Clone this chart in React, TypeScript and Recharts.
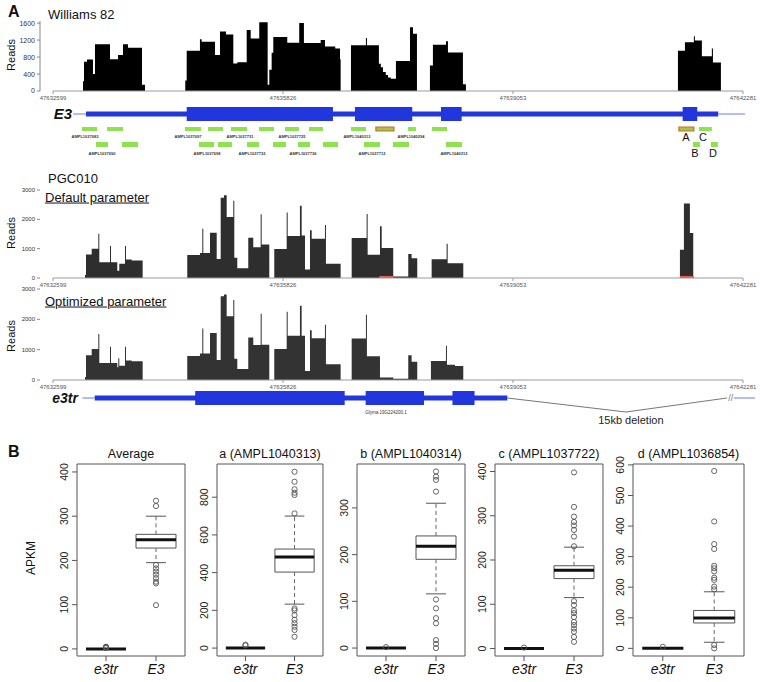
import React from 'react';
import {
  AreaChart,
  Area,
  ComposedChart,
  Scatter,
  XAxis,
  YAxis,
  ReferenceArea,
  ReferenceLine,
  ReferenceDot,
} from 'recharts';

const FONT = '"Liberation Sans", Arial, Helvetica, sans-serif';

// ---------- panel A: genomic region ----------
const REGION_START = 47632599;
const REGION_END = 47642281;
const REGION_LEN = REGION_END - REGION_START;
const POS_TICKS = [0, 3227, 6454, REGION_LEN];

// coverage breakpoints: [bp from region start, reads], value holds until next breakpoint
const williams82Cov: [number, number][] = [
  [421, 230], [435, 690], [477, 740], [561, 400], [589, 1100], [800, 750], [912, 850], [982, 1100], [1052, 1020], [1249, 150], [1291, 0],
  [1856, 250], [1876, 950], [2062, 1220], [2086, 1160], [2273, 850], [2343, 1400], [2427, 1330], [2530, 650], [2586, 680],
  [2718, 1440], [2774, 1240], [2894, 1620], [3012, 150], [3035, 500], [3068, 900], [3091, 1270], [3287, 1140], [3455, 1600],
  [3521, 1130], [3756, 1200], [3816, 1050], [3960, 1000], [4027, 750], [4036, 0],
  [4181, 1080], [4391, 1250], [4405, 1080], [4573, 640], [4600, 560], [4630, 450], [4670, 380], [4700, 320], [4740, 290],
  [4812, 710], [5009, 1500], [5051, 1350], [5107, 0],
  [5289, 600], [5331, 1090], [5514, 1170], [5542, 910], [5752, 160], [5794, 0],
  [8769, 950], [8867, 1150], [8993, 1290], [9007, 1190], [9105, 820], [9245, 1000], [9260, 670], [9372, 0],
];

const defaultCov: [number, number][] = [
  [449, 100], [463, 800], [543, 1000], [636, 1510], [650, 540], [800, 1090], [814, 540], [902, 250], [930, 490],
  [1010, 1090], [1024, 630], [1104, 600], [1258, 0],
  [1884, 780], [2062, 850], [2095, 1680], [2109, 850], [2203, 1540], [2297, 650], [2353, 2740], [2399, 2820], [2437, 2080],
  [2530, 2630], [2544, 690], [2586, 330], [2740, 1370], [2810, 1050], [2914, 2170], [2928, 1140], [3035, 0],
  [3105, 990], [3279, 2230], [3293, 1430], [3465, 2460], [3489, 1450], [3536, 290], [3606, 1630], [3630, 1340],
  [3816, 1810], [3830, 490], [4036, 0],
  [4191, 1360], [4401, 2180], [4415, 790], [4588, 1760], [4612, 1020], [4774, 50], [4985, 820], [5032, 670], [5111, 0],
  [5313, 640], [5523, 1170], [5538, 500], [5757, 0],
  [8797, 960], [8853, 2540], [8937, 1530], [8984, 0],
];

const optimizedCov: [number, number][] = [
  [449, 100], [463, 820], [543, 1020], [636, 1520], [650, 560], [800, 1100], [814, 560], [902, 420], [916, 720], [930, 470],
  [1010, 1100], [1024, 640], [1104, 620], [1258, 0],
  [1884, 790], [2062, 870], [2095, 1700], [2109, 870], [2203, 1550], [2297, 660], [2353, 2760], [2399, 2820], [2437, 2100],
  [2530, 2640], [2544, 700], [2586, 360], [2740, 1400], [2810, 1150], [2914, 2180], [2928, 1160], [3035, 0],
  [3105, 1020], [3279, 2250], [3293, 1460], [3465, 2450], [3489, 1460], [3536, 300], [3606, 1640], [3630, 1380],
  [3816, 1820], [3830, 520], [4036, 0],
  [4191, 1370], [4391, 2150], [4405, 780], [4588, 80], [4774, 40], [4985, 820], [5032, 600], [5111, 0],
  [5303, 630], [5514, 1130], [5528, 500], [5640, 460], [5757, 0],
];

// zero-coverage stretches flagged red under the default-parameter track
const defaultFlagged: [number, number][] = [[4578, 4774], [8797, 8993]];

// gene models
const e3Flanks: [number, number][] = [[281, 463], [9334, 9709]];
const e3Body: [number, number] = [463, 9334];
const e3Exons: [number, number][] = [[1876, 3928], [4237, 5041], [5444, 5734], [8835, 9040]];

const e3trFlanks: [number, number][] = [[412, 585], [9555, 9850]];
const e3trBody: [number, number] = [585, 6375];
const e3trExons: [number, number][] = [[1995, 4093], [4387, 5206], [5605, 5915]];
const deletionPath: [number, number][] = [[6375, 0], [8040, 1], [9457, 0]];

// amplicons: [start, end]
const ampRow1: [number, number][] = [
  [407, 617], [758, 982], [1852, 2076], [2175, 2385], [2497, 2722], [2890, 3101], [3255, 3451], [3592, 3788],
  [4181, 4391], [4531, 4784], [4981, 5093], [5317, 5528], [8783, 8993], [9063, 9245],
];
const ampRow2: [number, number][] = [
  [603, 772], [968, 1193], [2048, 2259], [2315, 2511], [2722, 2890], [3087, 3269], [3437, 3606], [3788, 3999],
  [4363, 4588], [4770, 4995], [5514, 5738], [8979, 9077], [9231, 9330],
];
const ampHighlighted = [4531, 8783];
const ampLabelsRow1: [number, string][] = [
  [449, 'AMPL1037683'], [1894, 'AMPL1037697'], [2624, 'AMPL1037731'], [3353, 'AMPL1037725'], [4265, 'AMPL1040313'], [5023, 'AMPL1040294'],
];
const ampLabelsRow2: [number, string][] = [
  [687, 'AMPL1037690'], [2161, 'AMPL1037698'], [2792, 'AMPL1037732'], [3508, 'AMPL1037736'], [4476, 'AMPL1037712'], [5626, 'AMPL1040312'],
];
const letterRow1: [number, string][] = [[8881, 'A'], [9120, 'C']];
const letterRow2: [number, string][] = [[9007, 'B'], [9260, 'D']];

// ---------- panel B: APKM box plots ----------
const boxTitles = ['Average', 'a (AMPL1040313)', 'b (AMPL1040314)', 'c (AMPL1037722)', 'd (AMPL1036854)'];
const groups = ['e3tr', 'E3'];
// [lower whisker, Q1, median, Q3, upper whisker]
const e3trStats = [
  [0, 0, 0, 0, 0],
  [0, 0, 0, 0, 0],
  [0, 0, 0, 0, 0],
  [0, 0, 0, 0, 0],
  [0, 0, 0, 0, 0],
];
const e3Stats = [
  [195, 228, 247, 259, 300],
  [233, 403, 483, 525, 700],
  [116, 190, 218, 240, 310],
  [115, 158, 177, 187, 229],
  [20, 83, 99, 124, 185],
];
const e3trOutliers = [[2, 3, 4, 5], [14, 18], [2], [2], [5]];
const e3Outliers = [
  [335, 323, 190, 182, 175, 168, 160, 152, 148, 99],
  [935, 882, 842, 824, 812, 714, 210, 200, 175, 150, 132, 113, 96, 60],
  [378, 367, 360, 335, 104, 85, 64, 53, 17, 9, 0],
  [398, 320, 298, 286, 278, 268, 253, 231, 107, 98, 86, 80, 71, 60, 53, 45, 38, 26, 15],
  [580, 415, 341, 325, 270, 262, 252, 231, 224, 202, 193, 11, 0],
];
const yLimits: [number, number][] = [[-16, 418], [-42, 976], [-17, 394], [-17, 417], [-25, 603]];
const yTicks = [
  [0, 100, 200, 300, 400],
  [0, 200, 400, 600, 800],
  [0, 100, 200, 300],
  [0, 100, 200, 300, 400],
  [0, 100, 200, 300, 400, 500, 600],
];

// layout
const PANEL_LEFT = [77, 217, 357, 495, 633];
const PANEL_W = [108, 106, 108, 108, 111];
const BOX_TOP = 464;
const BOX_H = 192;
const BOX_PAD = 14;
const BLUE = '#2236de';
const THIN_BLUE = '#8390f0';

const toSteps = (cov: [number, number][]) => [
  { pos: 0, reads: 0 },
  ...cov.map(([pos, reads]) => ({ pos, reads })),
  { pos: REGION_LEN, reads: 0 },
];

function Txt({ x, y, size, children, anchor = 'start', bold = false, italic = false, rotate = 0, underline = false }: any) {
  const tx = anchor === 'middle' ? '-50%' : anchor === 'end' ? '-100%' : '0';
  return (
    <div
      style={{
        position: 'absolute',
        left: x,
        top: y,
        transform: `translate(${tx}, -50%)${rotate ? ` rotate(${rotate}deg)` : ''}`,
        fontFamily: FONT,
        fontSize: size,
        fontWeight: bold ? 700 : 400,
        fontStyle: italic ? 'italic' : 'normal',
        textDecoration: underline ? 'underline' : 'none',
        whiteSpace: 'nowrap',
        lineHeight: 1.15,
        color: '#111',
      }}
    >
      {children}
    </div>
  );
}

function CoverageTrack({ cov, top, plotTop, plotH, yMax, ticks, fill, tickFont, yAxisLine = false, flagged = [] }: any) {
  return (
    <div style={{ position: 'absolute', left: 0, top }}>
      <AreaChart
        width={760}
        height={plotTop + plotH + 16}
        data={toSteps(cov)}
        margin={{ top: plotTop, right: 17, left: 0, bottom: 0 }}
      >
        <XAxis
          dataKey="pos"
          type="number"
          domain={[0, REGION_LEN]}
          ticks={POS_TICKS}
          interval={0}
          allowDataOverflow
          padding={{ left: 13, right: 0 }}
          tickFormatter={(v: number) => String(REGION_START + v)}
          axisLine={false}
          tickLine={{ stroke: '#999' }}
          tickSize={3}
          tick={{ fontSize: 6, fill: '#555', fontFamily: FONT }}
          height={16}
        />
        <YAxis
          type="number"
          domain={[0, yMax]}
          ticks={ticks}
          interval={0}
          allowDataOverflow
          width={40}
          axisLine={yAxisLine ? { stroke: '#888' } : false}
          tickLine={{ stroke: '#888' }}
          tickSize={3}
          tick={{ fontSize: tickFont, fill: '#333', fontFamily: FONT }}
        />
        <Area
          type="stepAfter"
          dataKey="reads"
          stroke="none"
          fill={fill}
          fillOpacity={1}
          dot={false}
          activeDot={false}
          isAnimationActive={false}
        />
        <ReferenceLine segment={[{ x: 0, y: 0 }, { x: REGION_LEN, y: 0 }]} stroke="#9a9a9a" />
        {flagged.map(([a, b]: [number, number], i: number) => (
          <ReferenceArea key={`f${i}`} x1={a} x2={b} y1={0} y2={70} fill="#e05a5a" fillOpacity={1} stroke="none" />
        ))}
      </AreaChart>
    </div>
  );
}

const textDot = (key: string, x: number, y: number, value: string, size: number, fill = '#222', weight = 400) => (
  <ReferenceDot
    key={key}
    x={x}
    y={y}
    r={0.01}
    fill="none"
    stroke="none"
    label={{ value, position: 'center', fontSize: size, fill, fontFamily: FONT, fontWeight: weight }}
  />
);

function GeneModel({ top, height, center, flanks, body, exons, children }: any) {
  return (
    <div style={{ position: 'absolute', left: 0, top }}>
      <ComposedChart width={760} height={height} data={[{ x: 0, y: 0 }]} margin={{ top: 0, right: 17, left: 53, bottom: 0 }}>
        <XAxis dataKey="x" type="number" domain={[0, REGION_LEN]} allowDataOverflow hide />
        <YAxis dataKey="y" type="number" domain={[0, height]} allowDataOverflow reversed hide />
        {flanks.map(([a, b]: [number, number], i: number) => (
          <ReferenceLine
            key={`fl${i}`}
            segment={[{ x: a, y: center }, { x: b, y: center }]}
            stroke={THIN_BLUE}
            strokeWidth={1.2}
            ifOverflow="visible"
          />
        ))}
        <ReferenceArea x1={body[0]} x2={body[1]} y1={center - 2.5} y2={center + 2.5} fill={BLUE} fillOpacity={1} stroke="none" />
        {exons.map(([a, b]: [number, number], i: number) => (
          <ReferenceArea key={`ex${i}`} x1={a} x2={b} y1={center - 7} y2={center + 7} fill={BLUE} fillOpacity={1} stroke="none" />
        ))}
        {children}
      </ComposedChart>
    </div>
  );
}

const ampRects = (row: [number, number][], y1: number, y2: number, tag: string) =>
  row.map(([a, b], i) => {
    const hl = ampHighlighted.includes(a);
    return (
      <ReferenceArea
        key={`${tag}${i}`}
        x1={a}
        x2={b}
        y1={y1}
        y2={y2}
        fill={hl ? '#a9c24a' : '#8fe24f'}
        fillOpacity={1}
        stroke={hl ? '#c4702a' : 'none'}
        strokeWidth={1.2}
      />
    );
  });

const GroupTick = (props: any) => {
  const { x, y, payload } = props;
  return (
    <text x={x} y={y + 11} textAnchor="middle" fontSize={14} fontStyle="italic" fontFamily={FONT} fill="#111">
      {groups[Math.round(payload.value) - 1]}
    </text>
  );
};

const ValueTick = (props: any) => {
  const { x, y, payload } = props;
  const bx = x - 2;
  return (
    <text x={bx} y={y} transform={`rotate(-90, ${bx}, ${y})`} textAnchor="middle" fontSize={10.5} fontFamily={FONT} fill="#222">
      {payload.value}
    </text>
  );
};

function BoxPanel({ idx }: { idx: number }) {
  const [lo, hi] = yLimits[idx];
  const stats = [e3trStats[idx], e3Stats[idx]];
  const outs = [e3trOutliers[idx], e3Outliers[idx]];
  const pts = outs.flatMap((vals, g) => vals.map((v) => ({ x: g + 1, y: v })));
  const marks: React.ReactElement[] = [];
  stats.forEach(([wLo, q1, med, q3, wHi], g) => {
    const c = g + 1;
    if (wHi > q3) {
      marks.push(
        <ReferenceLine key={`wu${g}`} segment={[{ x: c, y: q3 }, { x: c, y: wHi }]} stroke="#666" strokeDasharray="4 3" />,
        <ReferenceLine key={`cu${g}`} segment={[{ x: c - 0.2, y: wHi }, { x: c + 0.2, y: wHi }]} stroke="#555" />,
      );
    }
    if (wLo < q1) {
      marks.push(
        <ReferenceLine key={`wl${g}`} segment={[{ x: c, y: q1 }, { x: c, y: wLo }]} stroke="#666" strokeDasharray="4 3" />,
        <ReferenceLine key={`cl${g}`} segment={[{ x: c - 0.2, y: wLo }, { x: c + 0.2, y: wLo }]} stroke="#555" />,
      );
    }
    marks.push(
      <ReferenceArea key={`b${g}`} x1={c - 0.4} x2={c + 0.4} y1={q1} y2={q3} fill="#fff" fillOpacity={1} stroke="#555" strokeWidth={1} />,
      <ReferenceLine key={`m${g}`} segment={[{ x: c - 0.4, y: med }, { x: c + 0.4, y: med }]} stroke="#111" strokeWidth={3} />,
    );
  });
  return (
    <>
      <Txt x={PANEL_LEFT[idx] + PANEL_W[idx] / 2} y={454} size={12.5} anchor="middle">
        {boxTitles[idx]}
      </Txt>
      <div style={{ position: 'absolute', left: PANEL_LEFT[idx] - 40, top: BOX_TOP - BOX_PAD }}>
        <ComposedChart
          width={40 + PANEL_W[idx] + 6}
          height={BOX_PAD + BOX_H + 30}
          data={pts}
          margin={{ top: BOX_PAD, right: 6, left: 0, bottom: 0 }}
        >
          <XAxis
            dataKey="x"
            type="number"
            domain={[0.42, 2.58]}
            ticks={[1, 2]}
            interval={0}
            allowDataOverflow
            axisLine={false}
            tickLine={{ stroke: '#555' }}
            tickSize={5}
            tick={<GroupTick />}
            height={30}
          />
          <YAxis
            dataKey="y"
            type="number"
            domain={[lo, hi]}
            ticks={yTicks[idx]}
            interval={0}
            allowDataOverflow
            width={40}
            axisLine={false}
            tickLine={{ stroke: '#555' }}
            tickSize={5}
            tick={<ValueTick />}
          />
          <ReferenceArea x1={0.42} x2={2.58} y1={lo} y2={hi} fill="none" stroke="#555" strokeWidth={1} ifOverflow="visible" />
          {marks}
          <Scatter
            data={pts}
            dataKey="y"
            isAnimationActive={false}
            shape={(p: any) => <circle cx={p.cx} cy={p.cy} r={2.6} fill="none" stroke="#555" strokeWidth={0.9} />}
          />
        </ComposedChart>
      </div>
    </>
  );
}

export default function App() {
  return (
    <div style={{ position: 'absolute', left: 0, top: 0, width: 760, height: 682, background: '#fff', overflow: 'hidden' }}>
      {/* panel A */}
      <Txt x={8} y={12} size={16} bold>A</Txt>
      <Txt x={48} y={15} size={13}>Williams 82</Txt>
      <Txt x={11} y={55} size={11} anchor="middle" rotate={-90}>Reads</Txt>
      <CoverageTrack cov={williams82Cov} top={0} plotTop={21} plotH={70} yMax={1650} ticks={[0, 400, 800, 1200, 1600]} fill="#000" tickFont={7} yAxisLine />

      <GeneModel top={100} height={60} center={14} flanks={e3Flanks} body={e3Body} exons={e3Exons}>
        {ampRects(ampRow1, 27, 31, 'r1')}
        {ampRects(ampRow2, 42, 47, 'r2')}
        {ampLabelsRow1.map(([x, s], i) => textDot(`l1${i}`, x, 37, s, 4, '#333', 700))}
        {ampLabelsRow2.map(([x, s], i) => textDot(`l2${i}`, x, 54, s, 4, '#333', 700))}
        {letterRow1.map(([x, s], i) => textDot(`a1${i}`, x, 37, s, 11, '#111'))}
        {letterRow2.map(([x, s], i) => textDot(`a2${i}`, x, 53, s, 11, '#111'))}
      </GeneModel>
      <Txt x={63} y={114} size={15} anchor="middle" bold italic>E3</Txt>

      <Txt x={48} y={179} size={13}>PGC010</Txt>
      <Txt x={45} y={198} size={13} underline>Default parameter</Txt>
      <Txt x={11} y={233} size={11} anchor="middle" rotate={-90}>Reads</Txt>
      <CoverageTrack cov={defaultCov} top={170} plotTop={20} plotH={88} yMax={3000} ticks={[0, 1000, 2000, 3000]} fill="#2e2e2e" tickFont={6} flagged={defaultFlagged} />

      <Txt x={45} y={302} size={13} underline>Optimized parameter</Txt>
      <Txt x={11} y={336} size={11} anchor="middle" rotate={-90}>Reads</Txt>
      <CoverageTrack cov={optimizedCov} top={269} plotTop={20} plotH={91} yMax={3000} ticks={[0, 1000, 2000, 3000]} fill="#333" tickFont={6} />

      <GeneModel top={385} height={45} center={13} flanks={e3trFlanks} body={e3trBody} exons={e3trExons}>
        {deletionPath.slice(1).map(([x, d], i) => (
          <ReferenceLine
            key={`dl${i}`}
            segment={[
              { x: deletionPath[i][0], y: 13 + deletionPath[i][1] * 14 },
              { x, y: 13 + d * 14 },
            ]}
            stroke="#666"
            strokeWidth={0.9}
          />
        ))}
        {textDot('brk', 9510, 13, '//', 9, '#777')}
        {textDot('glyma', 4672, 27, 'Glyma.19G224200.1', 4.5, '#333')}
        {textDot('del', 8109, 35, '15kb deletion', 11, '#222')}
      </GeneModel>
      <Txt x={65} y={398} size={14} anchor="middle" bold italic>e3tr</Txt>

      {/* panel B */}
      <Txt x={8} y={452} size={16} bold>B</Txt>
      <Txt x={32} y={558} size={12} anchor="middle" rotate={-90}>APKM</Txt>
      {boxTitles.map((_, i) => (
        <BoxPanel key={i} idx={i} />
      ))}
    </div>
  );
}
